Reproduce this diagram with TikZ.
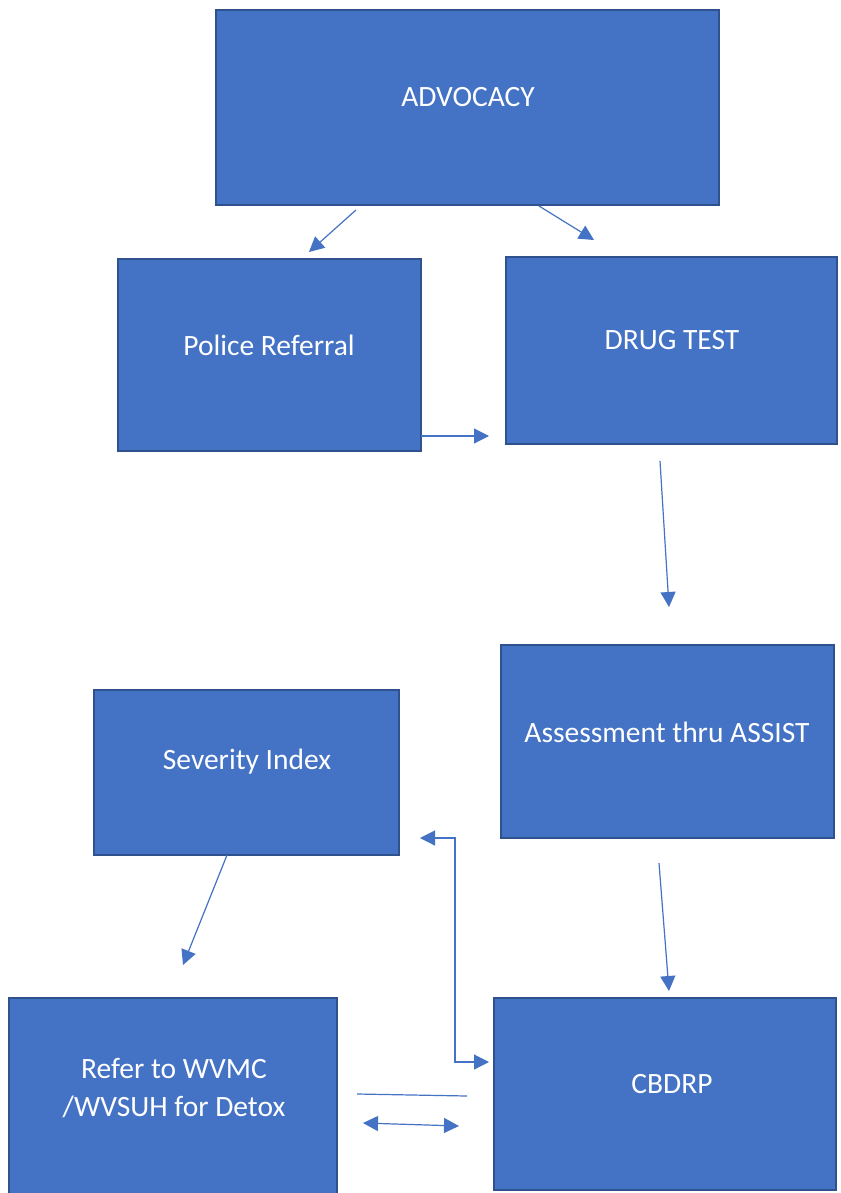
\documentclass[tikz,border=0pt]{standalone}
\usepackage{fontspec}
\setmainfont{Carlito}
\usetikzlibrary{arrows.meta,calc}
\definecolor{boxfill}{HTML}{4472C4}
\definecolor{boxedge}{HTML}{2F528F}
\tikzset{
  x=1pt, y=-1pt,
  flowbox/.style={draw=boxedge, fill=boxfill, line width=1.8pt, inner sep=0pt},
  boxtext/.style={text=white, font=\fontsize{29.5}{39}\selectfont, align=center, inner sep=0pt},
  link/.style={draw=boxfill, line width=1.2pt, -{Triangle[length=15pt,width=15pt]}},
  twoway/.style={draw=boxfill, line width=1.2pt, {Triangle[length=15pt,width=15pt]}-{Triangle[length=15pt,width=15pt]}},
  plainlink/.style={draw=boxfill, line width=1.2pt},
}
\newcommand{\flowbox}[5]{% name, x1, y1, x2, y2
  \node[flowbox, minimum width=#4-#2, minimum height=#5-#3] (#1) at ({(#2+#4)/2},{(#3+#5)/2}) {};}
\begin{document}
\begin{tikzpicture}
\useasboundingbox (0,0) rectangle (840,1193);
\fill[white] (0,0) rectangle (840,1193);

% boxes
\flowbox{advocacy}{216}{10}{719}{205}
\flowbox{police}{118}{259}{421}{451}
\flowbox{drug}{506}{257}{837}{444}
\flowbox{assess}{501}{645}{834}{838}
\flowbox{severity}{94}{690}{399}{855}
\flowbox{refer}{9}{998}{337}{1200}
\flowbox{cbdrp}{494}{998}{836}{1190}

% box captions
\node[boxtext] (tadv) at (468,97) {ADVOCACY};
\node[boxtext] (tpol) at (269,345) {Police Referral};
\node[boxtext] (tdrug) at (672,340) {DRUG TEST};
\node[boxtext] (tass) at (667,732) {Assessment thru ASSIST};
\node[boxtext] (tsev) at (247,762) {Severity Index};
\node[boxtext] (tref) at (174,1088) {Refer to WVMC\\/WVSUH for Detox};
\node[boxtext] (tcb) at (672,1084) {CBDRP};

% connector end points
\coordinate (a1s) at (356,210);  \coordinate (a1e) at (309,252);
\coordinate (a2s) at (539,206);  \coordinate (a2e) at (594,240);
\coordinate (a3s) at (421,436);  \coordinate (a3e) at (489,436);
\coordinate (a4s) at (660,461);  \coordinate (a4e) at (669,607);
\coordinate (a5s) at (420,838);  \coordinate (a5e) at (489,1062);
\coordinate (a6s) at (659,863);  \coordinate (a6e) at (669,991);
\coordinate (a7s) at (227,855);  \coordinate (a7e) at (183,965);
\coordinate (a8s) at (357,1094); \coordinate (a8e) at (467,1096);
\coordinate (a9s) at (363,1123); \coordinate (a9e) at (459,1126);

% connectors
\draw[link] (a1s) -- (a1e);
\draw[link] (a2s) -- (a2e);
\draw[link] (a3s) -- (a3e);
\draw[link] (a4s) -- (a4e);
\draw[twoway] (a5s) -- (455,838) -- (455,1062) -- (a5e);
\draw[link] (a6s) -- (a6e);
\draw[link] (a7s) -- (a7e);
\draw[plainlink] (a8s) -- (a8e);
\draw[twoway] (a9s) -- (a9e);
\end{tikzpicture}
\end{document}
